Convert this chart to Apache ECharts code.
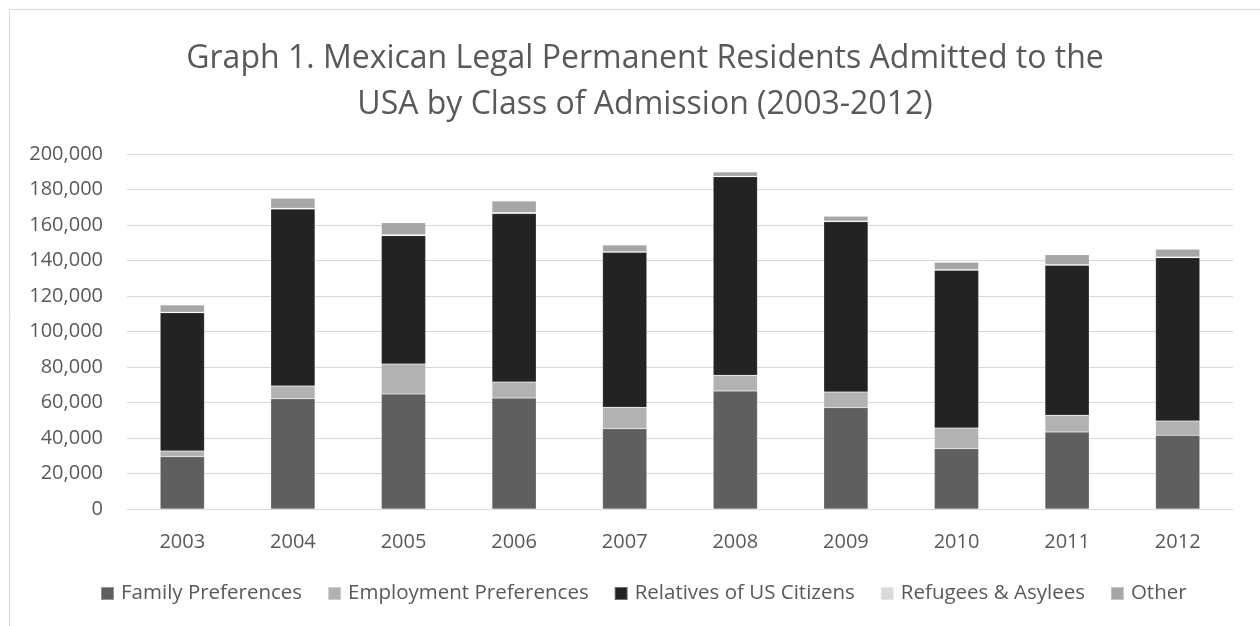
<!DOCTYPE html>
<html>
<head>
<meta charset="utf-8">
<script src="https://cdn.jsdelivr.net/npm/echarts@6/dist/echarts.min.js"></script>
<style>
html,body{margin:0;padding:0;background:#fff;}
#chart{width:1260px;height:626px;}
</style>
</head>
<body>
<div id="chart"></div>
<script>
const years = ['2003','2004','2005','2006','2007','2008','2009','2010','2011','2012'];
const familyPreferences     = [29500, 62150, 64800, 62500, 45250, 66500, 57100, 34000, 43400, 41500];
const employmentPreferences = [3200, 7150, 16900, 9000, 12050, 8800, 8800, 11600, 9400, 8100];
const relativesOfUSCitizens = [77900, 99700, 72300, 95000, 87300, 111900, 96000, 88900, 84500, 92000];
const refugeesAsylees       = [300, 400, 500, 500, 300, 300, 300, 400, 400, 400];
const other                 = [4000, 5650, 6800, 6500, 3850, 2400, 2700, 4100, 5600, 4300];
const yTicks = [0, 20000, 40000, 60000, 80000, 100000, 120000, 140000, 160000, 180000, 200000];

const FONT = '"Open Sans", "DejaVu Sans", sans-serif';
const chart = echarts.init(document.getElementById('chart'));

function mk(name, data, color) {
  return {
    name: name, type: 'bar', stack: 'total', data: data,
    barWidth: '40%',
    itemStyle: { color: color, borderColor: 'rgba(255,255,255,0.35)', borderWidth: 0.5 },
    emphasis: { disabled: true }
  };
}

chart.setOption({
  animation: false,
  backgroundColor: '#ffffff',
  graphic: [{
    type: 'rect', silent: true,
    shape: { x: 9.5, y: 9.5, width: 1400, height: 800 },
    style: { fill: 'none', stroke: '#d9d9d9', lineWidth: 1 }
  }],
  title: {
    text: 'Graph 1. Mexican Legal Permanent Residents Admitted to the\nUSA by Class of Admission (2003-2012)',
    left: 640, textAlign: 'center', top: 31,
    textStyle: { fontFamily: FONT, fontSize: 32, fontWeight: 'normal', color: '#595959', lineHeight: 46 }
  },
  legend: {
    top: 583, left: 100, padding: 0,
    itemWidth: 13, itemHeight: 13, itemGap: 25,
    icon: 'rect',
    textStyle: { fontFamily: FONT, fontSize: 20.5, color: '#595959', padding: [0, 0, 0, 2] },
    data: ['Family Preferences','Employment Preferences','Relatives of US Citizens','Refugees & Asylees','Other']
  },
  grid: { left: 127, right: 27, top: 154, bottom: 117, containLabel: false },
  xAxis: {
    type: 'category', data: years,
    axisLine: { show: true, lineStyle: { color: '#d9d9d9', width: 1 } },
    axisTick: { show: false },
    axisLabel: { fontFamily: FONT, fontSize: 20, color: '#595959', margin: 23 }
  },
  yAxis: {
    type: 'value', min: 0, max: 200000, interval: 20000,
    axisLine: { show: false }, axisTick: { show: false },
    splitLine: { lineStyle: { color: '#d9d9d9', width: 1 } },
    axisLabel: {
      fontFamily: FONT, fontSize: 20, color: '#595959', margin: 24,
      formatter: function (v) { return yTicks.indexOf(v) >= 0 ? v.toLocaleString('en-US') : ''; }
    }
  },
  series: [
    mk('Family Preferences', familyPreferences, '#5f5f5f'),
    mk('Employment Preferences', employmentPreferences, '#b2b2b2'),
    mk('Relatives of US Citizens', relativesOfUSCitizens, '#232323'),
    mk('Refugees & Asylees', refugeesAsylees, '#d9d9d9'),
    mk('Other', other, '#a6a6a6')
  ]
});
</script>
</body>
</html>
